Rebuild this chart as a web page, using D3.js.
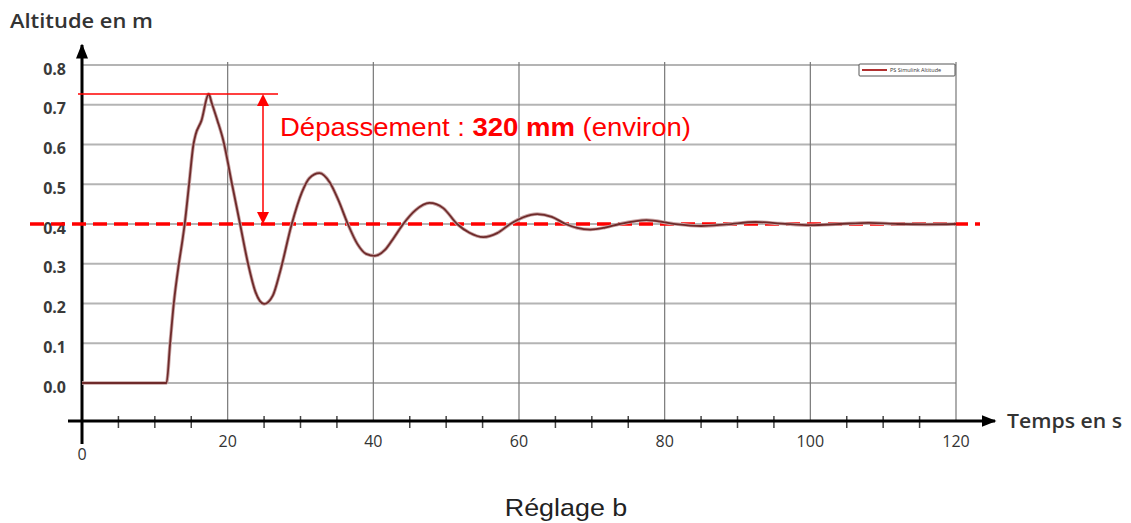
<!DOCTYPE html>
<html><head><meta charset="utf-8">
<script src="https://cdn.jsdelivr.net/npm/d3@7"></script>
<style>
html,body{margin:0;padding:0;background:#fff;}
svg{display:block;}
</style>
</head><body>
<svg id="c" width="1131" height="523"></svg>
<script>
// ---- data ----
const timeS = [0, 11.6, 12.1, 12.6, 13.3, 13.8, 14.1, 14.7, 15.3, 15.6, 16.4, 17.4, 17.8, 18.6, 19.4, 20.6, 21.7, 22.8, 23.8, 25.0, 26.2, 27.2, 28.8, 30.2, 31.2, 32.6, 34.0, 35.2, 36.5, 37.8, 39.0, 40.2, 41.6, 42.8, 44.1, 45.8, 47.7, 49.6, 51.5, 53.2, 55.1, 57.0, 58.8, 60.6, 62.5, 64.5, 66.4, 68.0, 69.8, 71.8, 73.8, 77.5, 81.0, 85.0, 88.5, 92.5, 96.0, 100.0, 104.0, 108.0, 112.0, 116.0, 120.0];
const altitudeM = [0, 0, 0.1, 0.2, 0.3, 0.36, 0.4, 0.5, 0.6, 0.625, 0.66, 0.727, 0.705, 0.66, 0.61, 0.5, 0.4, 0.3, 0.23, 0.199, 0.22, 0.28, 0.4, 0.48, 0.515, 0.528, 0.505, 0.46, 0.4, 0.35, 0.325, 0.32, 0.335, 0.365, 0.4, 0.435, 0.453, 0.44, 0.4, 0.378, 0.367, 0.377, 0.4, 0.417, 0.425, 0.418, 0.4, 0.39, 0.386, 0.391, 0.4, 0.41, 0.401, 0.395, 0.399, 0.405, 0.401, 0.397, 0.4, 0.403, 0.4, 0.399, 0.4];
const setpoint = 0.4;
const peakValue = 0.727;
const yTicks = [0.0, 0.1, 0.2, 0.3, 0.4, 0.5, 0.6, 0.7, 0.8];
const xMajorTicks = [20, 40, 60, 80, 100, 120];
const xMinorTicks = [5, 10, 15, 25, 30, 35, 45, 50, 55, 65, 70, 75, 85, 90, 95, 105, 110, 115];
const yAxisTitle = "Altitude en m";
const xAxisTitle = "Temps en s";
const caption = "Réglage b";
const legendLabel = "PS Simulink Altitude";

// ---- drawing ----
const svg = d3.select("#c");
const x = d3.scaleLinear().domain([0, 120]).range([82, 956]);
const y = d3.scaleLinear().domain([0, 0.8]).range([383, 65]);
const axisY = 421; // x-axis baseline (below the 0 level)

const grid = svg.append("g");
grid.selectAll("line.h").data(yTicks).enter().append("line")
  .attr("x1", x(0)).attr("x2", x(120))
  .attr("y1", d => y(d)).attr("y2", d => y(d))
  .attr("stroke", "#b4b4b4").attr("stroke-width", 2);
grid.selectAll("line.v").data(xMajorTicks).enter().append("line")
  .attr("x1", d => x(d)).attr("x2", d => x(d))
  .attr("y1", y(0.8) - 3).attr("y2", axisY)
  .attr("stroke", "#777").attr("stroke-width", 1.2);

svg.append("g").selectAll("line").data(xMinorTicks).enter().append("line")
  .attr("x1", d => x(d)).attr("x2", d => x(d))
  .attr("y1", axisY - 5).attr("y2", axisY + 7)
  .attr("stroke", "#444").attr("stroke-width", 1.5);

const defs = svg.append("defs");
defs.append("marker").attr("id", "ax").attr("viewBox", "0 0 10 10")
  .attr("refX", 9).attr("refY", 5).attr("markerWidth", 5).attr("markerHeight", 5)
  .attr("orient", "auto").attr("markerUnits", "strokeWidth")
  .append("path").attr("d", "M0,1 L10,5 L0,9 Z").attr("fill", "#000");
svg.append("line").attr("x1", 68).attr("x2", 995).attr("y1", axisY).attr("y2", axisY)
  .attr("stroke", "#000").attr("stroke-width", 3).attr("marker-end", "url(#ax)");
svg.append("line").attr("x1", x(0)).attr("x2", x(0)).attr("y1", 444).attr("y2", 45)
  .attr("stroke", "#000").attr("stroke-width", 3).attr("marker-end", "url(#ax)");

const fontUI = "'Open Sans', 'DejaVu Sans', sans-serif";
svg.append("g").selectAll("text").data(yTicks).enter().append("text")
  .attr("x", 66).attr("y", d => y(d) + 4).attr("dy", "0.35em")
  .attr("text-anchor", "end").attr("font-family", fontUI).attr("font-size", 16)
  .attr("font-weight", 700).attr("fill", "#3a3a3a")
  .text(d => d3.format(".1f")(d));
svg.append("g").selectAll("text").data(xMajorTicks).enter().append("text")
  .attr("x", d => x(d)).attr("y", 441).attr("dy", "0.35em")
  .attr("text-anchor", "middle").attr("font-family", fontUI).attr("font-size", 16)
  .attr("fill", "#333").text(d => d);
svg.append("text").attr("x", x(0)).attr("y", 454).attr("dy", "0.35em")
  .attr("text-anchor", "middle").attr("font-family", fontUI).attr("font-size", 16)
  .attr("fill", "#333").text("0");

svg.append("text").attr("x", 10).attr("y", 28).attr("font-family", fontUI)
  .attr("font-size", 19).attr("font-weight", 600).attr("fill", "#333")
  .attr("textLength", 143).attr("lengthAdjust", "spacingAndGlyphs").text(yAxisTitle);
svg.append("text").attr("x", 1007).attr("y", 428).attr("font-family", fontUI)
  .attr("font-size", 19).attr("font-weight", 600).attr("fill", "#333")
  .attr("textLength", 115).attr("lengthAdjust", "spacingAndGlyphs").text(xAxisTitle);

const lg = svg.append("g");
lg.append("rect").attr("x", 859).attr("y", 64).attr("width", 96).attr("height", 12)
  .attr("fill", "#fff").attr("stroke", "#555").attr("stroke-width", 1).attr("rx", 1);
lg.append("line").attr("x1", 862).attr("x2", 887).attr("y1", 70).attr("y2", 70)
  .attr("stroke", "#b03030").attr("stroke-width", 2);
lg.append("text").attr("x", 890).attr("y", 72).attr("font-family", fontUI)
  .attr("font-size", 5.5).attr("fill", "#333").text(legendLabel);

svg.append("line").attr("x1", 30).attr("x2", 980)
  .attr("y1", y(setpoint)).attr("y2", y(setpoint))
  .attr("stroke", "#ff0000").attr("stroke-width", 3.5).attr("stroke-dasharray", "14,7");

const line = d3.line().x((d, i) => x(timeS[i])).y(d => y(d)).curve(d3.curveMonotoneX);
svg.append("path").datum(altitudeM).attr("d", line)
  .attr("fill", "none").attr("stroke", "#c9a5a5").attr("stroke-width", 3.5);
svg.append("path").datum(altitudeM).attr("d", line)
  .attr("fill", "none").attr("stroke", "#6e2a2a").attr("stroke-width", 1.8);

const red = "#ff0000";
svg.append("line").attr("x1", 78).attr("x2", 278).attr("y1", y(peakValue)).attr("y2", y(peakValue))
  .attr("stroke", red).attr("stroke-width", 1.5);
const ax = 263;
svg.append("line").attr("x1", ax).attr("x2", ax).attr("y1", y(peakValue) + 10).attr("y2", y(setpoint) - 10)
  .attr("stroke", red).attr("stroke-width", 1.5);
svg.append("path").attr("d", `M${ax},${y(peakValue)} L${ax - 6},${y(peakValue) + 12} L${ax + 6},${y(peakValue) + 12} Z`).attr("fill", red);
svg.append("path").attr("d", `M${ax},${y(setpoint)} L${ax - 6},${y(setpoint) - 12} L${ax + 6},${y(setpoint) - 12} Z`).attr("fill", red);

const ann = svg.append("text").attr("transform", "translate(280,136) scale(1.1,1)")
  .attr("font-family", "'Liberation Sans', Arial, sans-serif").attr("font-size", 25).attr("fill", red);
ann.append("tspan").text("Dépassement : ");
ann.append("tspan").attr("font-weight", "bold").text("320 mm");
ann.append("tspan").text(" (environ)");

svg.append("text").attr("transform", "translate(566,516) scale(1.12,1)").attr("text-anchor", "middle")
  .attr("font-family", "'Liberation Sans', Arial, sans-serif").attr("font-size", 24)
  .attr("fill", "#222").text(caption);
</script>
</body></html>
